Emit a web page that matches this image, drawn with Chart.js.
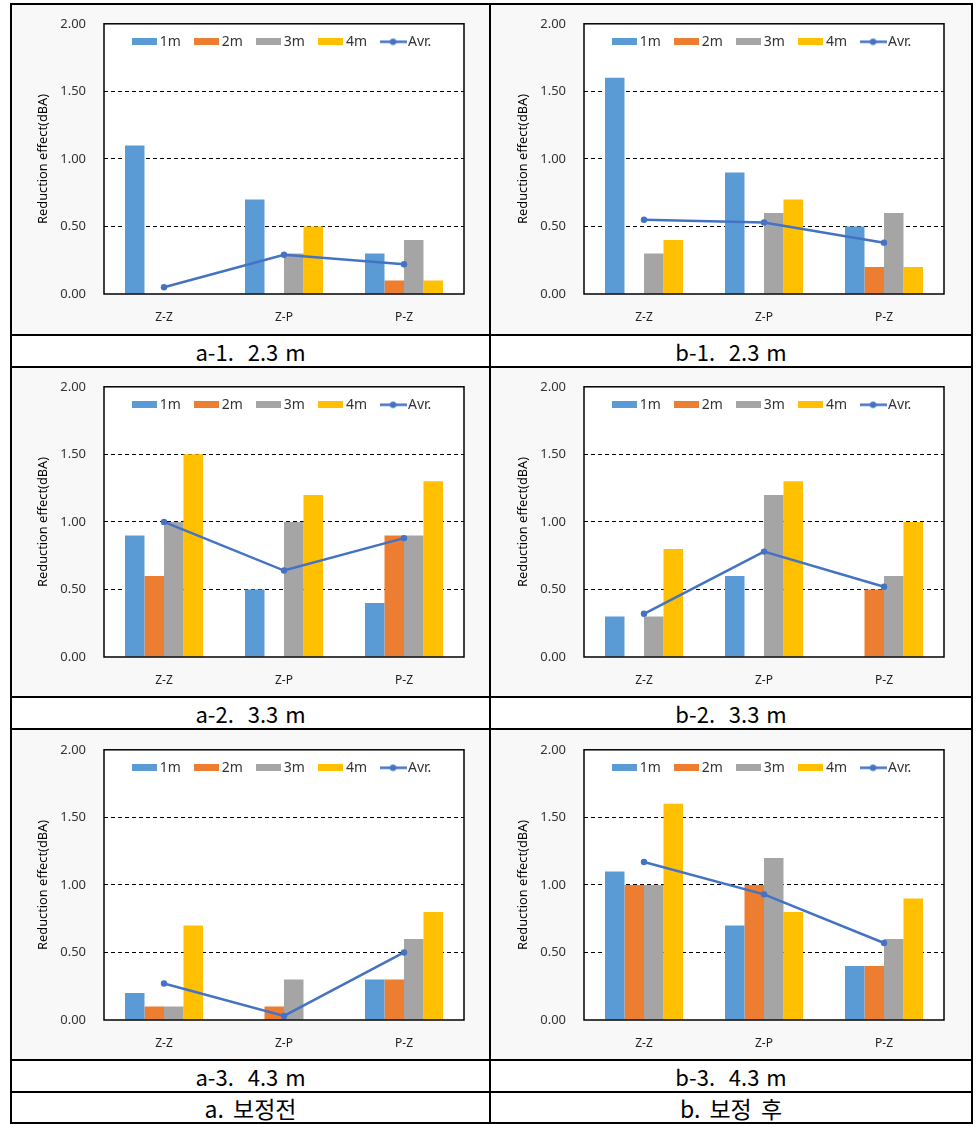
<!DOCTYPE html>
<html>
<head>
<meta charset="utf-8">
<script src="https://cdn.jsdelivr.net/npm/chart.js@4.4.1/dist/chart.umd.min.js"></script>
<style>
  html, body { margin: 0; padding: 0; background: #fff; }
  #page { position: relative; width: 978px; height: 1126px; overflow: hidden; }
  .ln { position: absolute; background: #000; z-index: 5; }
  .cell { position: absolute; background: #f8f8f8; }
  canvas { position: absolute; }
  .cap {
    position: absolute; display: flex; align-items: center; justify-content: center;
    font-family: "Noto Sans CJK KR", sans-serif; font-size: 22px; color: #000;
    white-space: pre; word-spacing: 2px;
  }
  .foot { word-spacing: 4px; font-size: 23px; }
</style>
</head>
<body>
<div id="page"></div>
<script>
const categories = ["Z-Z", "Z-P", "P-Z"];
const seriesNames = ["1m", "2m", "3m", "4m", "Avr."];
const seriesColors = ["#5B9BD5", "#ED7D31", "#A5A5A5", "#FFC000", "#4472C4"];
const yTicks = [0, 0.5, 1.0, 1.5, 2.0];
const yTitle = "Reduction effect(dBA)";

// a-1. 2.3 m
const a1_1m = [1.10, 0.70, 0.30];
const a1_2m = [0.00, 0.00, 0.10];
const a1_3m = [0.00, 0.30, 0.40];
const a1_4m = [0.00, 0.50, 0.10];
const a1_avr = [0.05, 0.29, 0.22];

// b-1. 2.3 m
const b1_1m = [1.60, 0.90, 0.50];
const b1_2m = [0.00, 0.00, 0.20];
const b1_3m = [0.30, 0.60, 0.60];
const b1_4m = [0.40, 0.70, 0.20];
const b1_avr = [0.55, 0.53, 0.38];

// a-2. 3.3 m
const a2_1m = [0.90, 0.50, 0.40];
const a2_2m = [0.60, 0.00, 0.90];
const a2_3m = [1.00, 1.00, 0.90];
const a2_4m = [1.50, 1.20, 1.30];
const a2_avr = [1.00, 0.64, 0.88];

// b-2. 3.3 m
const b2_1m = [0.30, 0.60, 0.00];
const b2_2m = [0.00, 0.00, 0.50];
const b2_3m = [0.30, 1.20, 0.60];
const b2_4m = [0.80, 1.30, 1.00];
const b2_avr = [0.32, 0.78, 0.52];

// a-3. 4.3 m
const a3_1m = [0.20, 0.00, 0.30];
const a3_2m = [0.10, 0.10, 0.30];
const a3_3m = [0.10, 0.30, 0.60];
const a3_4m = [0.70, 0.00, 0.80];
const a3_avr = [0.27, 0.03, 0.50];

// b-3. 4.3 m
const b3_1m = [1.10, 0.70, 0.40];
const b3_2m = [1.00, 1.00, 0.40];
const b3_3m = [1.00, 1.20, 0.60];
const b3_4m = [1.60, 0.80, 0.90];
const b3_avr = [1.17, 0.93, 0.57];

const panels = [
    {caption: "a-1.  2.3 m", col: 0, row: 0, series: [a1_1m, a1_2m, a1_3m, a1_4m, a1_avr]},
    {caption: "b-1.  2.3 m", col: 1, row: 0, series: [b1_1m, b1_2m, b1_3m, b1_4m, b1_avr]},
    {caption: "a-2.  3.3 m", col: 0, row: 1, series: [a2_1m, a2_2m, a2_3m, a2_4m, a2_avr]},
    {caption: "b-2.  3.3 m", col: 1, row: 1, series: [b2_1m, b2_2m, b2_3m, b2_4m, b2_avr]},
    {caption: "a-3.  4.3 m", col: 0, row: 2, series: [a3_1m, a3_2m, a3_3m, a3_4m, a3_avr]},
    {caption: "b-3.  4.3 m", col: 1, row: 2, series: [b3_1m, b3_2m, b3_3m, b3_4m, b3_avr]}
];
const footers = ["a. 보정전", "b. 보정 후"];

// table geometry
const colX = [12, 491];
const colW = [477, 480];
const rowTop = [5, 368, 730];
const rowH = [329, 328, 329];
const capTop = [336, 698, 1061];
const canvasX = [12, 492];
const canvasY = [-2, 361, 724];

const page = document.getElementById("page");

function addLine(x, y, w, h) {
    const d = document.createElement("div");
    d.className = "ln";
    Object.assign(d.style, {left: x + "px", top: y + "px", width: w + "px", height: h + "px"});
    page.appendChild(d);
}
[3, 334, 366, 696, 728, 1059, 1091, 1122].forEach(y => addLine(10, y, 963, 2));
[10, 489, 971].forEach(x => addLine(x, 3, 2, 1121));

function legendIcon(color, isLine) {
    const c = document.createElement("canvas");
    const g = c.getContext("2d");
    if (isLine) {
        c.width = 27; c.height = 9;
        g.strokeStyle = color; g.lineWidth = 2.5;
        g.beginPath(); g.moveTo(0, 4.5); g.lineTo(27, 4.5); g.stroke();
        g.fillStyle = color;
        g.beginPath(); g.arc(13.5, 4.5, 3.2, 0, Math.PI * 2); g.fill();
    } else {
        c.width = 25; c.height = 7;
        g.fillStyle = color; g.fillRect(0, 0, 25, 7);
    }
    return c;
}
const icons = seriesColors.map((c, i) => legendIcon(c, i === 4));

// legend sits inside the plot frame; frame + white plot background
const framePlugin = {
    id: "frame",
    afterLayout(chart) {
        const lg = chart.legend, ca = chart.chartArea;
        const pad = lg.options.labels.padding;
        const half = lg.options.labels.font.size / 2;
        lg.left = ca.left; lg.right = ca.right; lg.width = ca.right - ca.left;
        lg.top = ca.top + 18 - half - pad;
        lg.height = 45; lg.bottom = lg.top + 45;
    },
    beforeDraw(chart) {
        const {ctx, chartArea: ca} = chart;
        ctx.save();
        ctx.fillStyle = "#fff";
        ctx.fillRect(ca.left, ca.top, ca.right - ca.left, ca.bottom - ca.top);
        ctx.restore();
    },
    afterDraw(chart) {
        const {ctx, chartArea: ca} = chart;
        ctx.save();
        ctx.strokeStyle = "#000";
        ctx.lineWidth = 1.5;
        ctx.strokeRect(ca.left, ca.top, ca.right - ca.left, ca.bottom - ca.top);
        ctx.restore();
    }
};

panels.forEach(p => {
    const cell = document.createElement("div");
    cell.className = "cell";
    Object.assign(cell.style, {left: colX[p.col] + "px", top: rowTop[p.row] + "px",
        width: colW[p.col] + "px", height: rowH[p.row] + "px"});
    page.appendChild(cell);

    const cv = document.createElement("canvas");
    cv.width = 478; cv.height = 330;
    cv.style.left = canvasX[p.col] + "px";
    cv.style.top = canvasY[p.row] + "px";
    page.appendChild(cv);

    const cap = document.createElement("div");
    cap.className = "cap";
    cap.textContent = p.caption;
    Object.assign(cap.style, {left: colX[p.col] + "px", top: capTop[p.row] + "px",
        width: colW[p.col] + "px", height: "30px"});
    page.appendChild(cap);

    const datasets = p.series.map((vals, i) => i < 4 ? {
        type: "bar",
        label: seriesNames[i],
        data: vals,
        backgroundColor: seriesColors[i],
        borderWidth: 0,
        categoryPercentage: 0.65,
        barPercentage: 1.0,
        order: 1
    } : {
        type: "line",
        label: seriesNames[i],
        data: vals,
        borderColor: seriesColors[i],
        backgroundColor: seriesColors[i],
        pointBackgroundColor: seriesColors[i],
        pointBorderWidth: 0,
        borderWidth: 2.5,
        pointRadius: 3.2,
        tension: 0,
        order: 0
    });

    new Chart(cv.getContext("2d"), {
        type: "bar",
        data: {labels: categories, datasets},
        options: {
            responsive: false,
            animation: false,
            devicePixelRatio: 1,
            layout: {padding: {left: 0, top: 10, right: 26, bottom: 4}},
            plugins: {
                tooltip: {enabled: false},
                legend: {
                    position: "top",
                    maxHeight: 1,
                    fullSize: false,
                    labels: {
                        usePointStyle: true,
                        pointStyleWidth: 16,
                        boxHeight: 7,
                        padding: 18,
                        color: "#333",
                        font: {family: "Noto Sans", size: 14},
                        sort: (a, b) => a.datasetIndex - b.datasetIndex,
                        generateLabels: chart => Chart.defaults.plugins.legend.labels.generateLabels(chart)
                            .map(it => ({...it, pointStyle: icons[it.datasetIndex], lineWidth: 0}))
                    }
                }
            },
            scales: {
                x: {
                    offset: true,
                    grid: {display: false, drawTicks: false},
                    border: {display: false},
                    ticks: {padding: 16, color: "#222", font: {family: "Noto Sans", size: 12}},
                    afterFit: s => { s.height = 30; }
                },
                y: {
                    min: yTicks[0],
                    max: yTicks[yTicks.length - 1],
                    ticks: {
                        stepSize: yTicks[1] - yTicks[0],
                        padding: 18,
                        color: "#333",
                        font: {family: "Noto Sans", size: 13},
                        callback: v => Number(v).toFixed(2)
                    },
                    grid: {
                        drawTicks: false,
                        lineWidth: 1,
                        color: ctx => (ctx.tick.value === yTicks[0] || ctx.tick.value === yTicks[yTicks.length - 1]) ? "rgba(0,0,0,0)" : "#000"
                    },
                    border: {display: false, dash: [4, 3]},
                    title: {
                        display: true,
                        text: yTitle,
                        color: "#000",
                        font: {family: "Noto Sans", size: 12.8},
                        padding: {top: 24, bottom: 0}
                    },
                    afterFit: s => { s.width = 92; }
                }
            }
        },
        plugins: [framePlugin]
    });
});

footers.forEach((t, i) => {
    const cap = document.createElement("div");
    cap.className = "cap foot";
    cap.textContent = t;
    Object.assign(cap.style, {left: colX[i] + "px", top: "1093px", width: colW[i] + "px", height: "29px"});
    page.appendChild(cap);
});
</script>
</body>
</html>
